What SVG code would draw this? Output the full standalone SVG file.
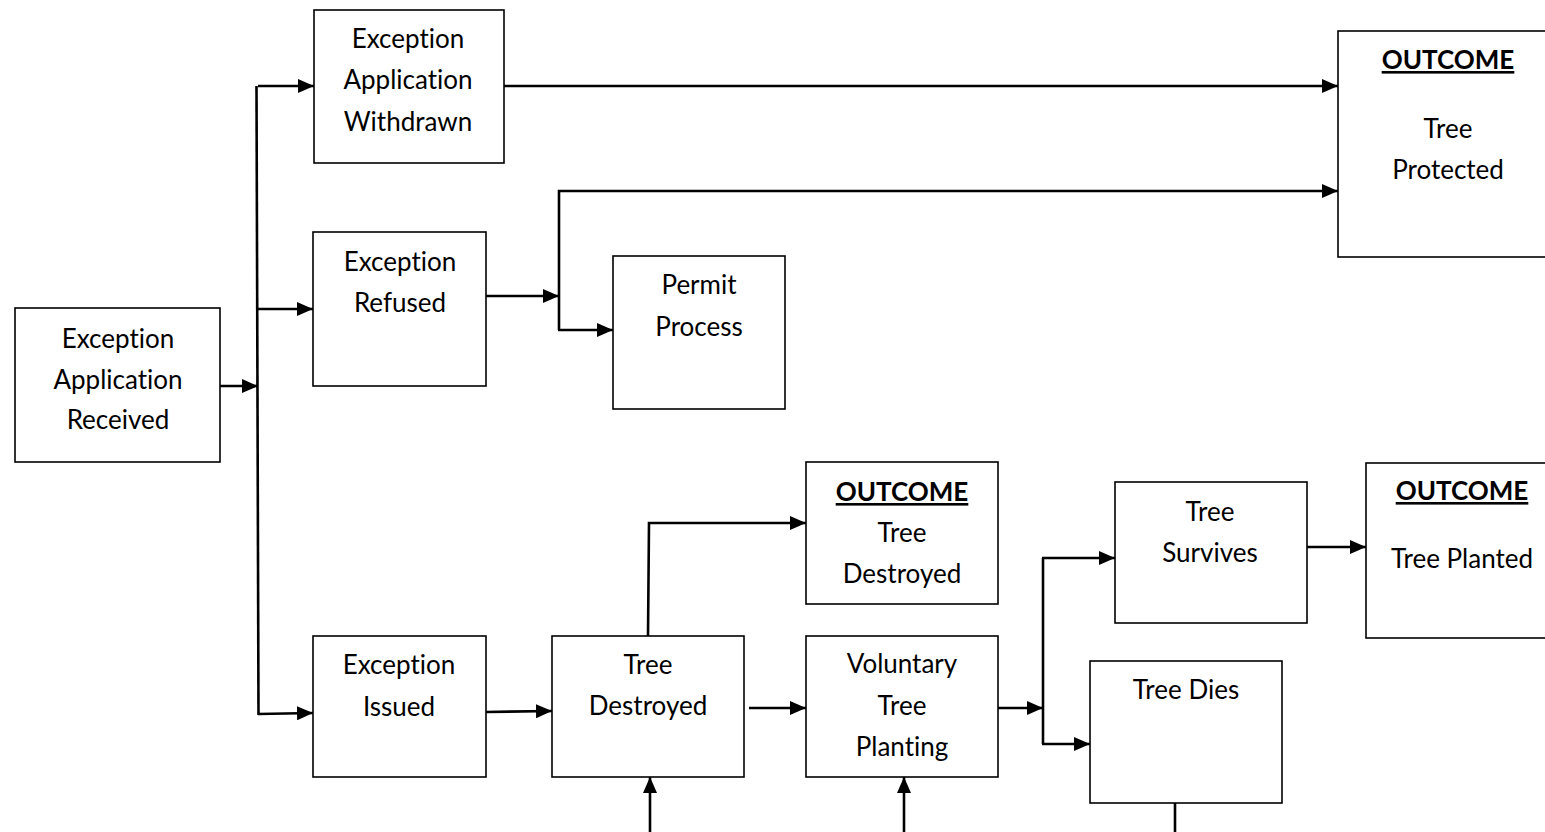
<svg xmlns="http://www.w3.org/2000/svg" width="1545" height="832" viewBox="0 0 1545 832">
  <style>
    .box { fill: #ffffff; stroke: #000000; stroke-width: 1.6; }
    .lbl { font-family: Lato, "Liberation Sans", sans-serif; font-size: 26px; fill: #000000; text-anchor: middle; font-variant-ligatures: none; }
    .hd { font-weight: bold; text-decoration: underline; }
    .wire { fill: none; stroke: #000000; stroke-width: 2.6; }
    .arr { marker-end: url(#head); }
  </style>
  <defs>
    <marker id="head" viewBox="0 0 16 14" refX="16" refY="7" markerWidth="16" markerHeight="14" markerUnits="userSpaceOnUse" orient="auto">
      <path d="M0,0 L16,7 L0,14 z" fill="#000000"/>
    </marker>
  </defs>
  <rect width="1545" height="832" fill="#ffffff"/>

  <!-- connectors -->
  <g id="connectors">
    <path class="wire arr" d="M220,386 L258,386"/>
    <path class="wire" d="M256.5,86 L258.5,715"/>
    <path class="wire arr" d="M258,86 L314,86"/>
    <path class="wire arr" d="M258,309 L313,309"/>
    <path class="wire arr" d="M258,714 L313,713"/>
    <path class="wire arr" d="M504,86 L1338,86"/>
    <path class="wire arr" d="M486,296 L559,296"/>
    <path class="wire arr" d="M559,330 L559,191 L1338,191"/>
    <path class="wire arr" d="M558,330 L613,330"/>
    <path class="wire arr" d="M486,712 L552,711"/>
    <path class="wire arr" d="M648,636 L649,523 L806,523"/>
    <path class="wire arr" d="M749,708 L806,708"/>
    <path class="wire arr" d="M650,832 L650,777"/>
    <path class="wire arr" d="M904,832 L904,777"/>
    <path class="wire arr" d="M998,708 L1043,708"/>
    <path class="wire" d="M1043,558 L1043,744"/>
    <path class="wire arr" d="M1042,558 L1115,558"/>
    <path class="wire arr" d="M1042,744 L1090,744"/>
    <path class="wire arr" d="M1307,547 L1366,547"/>
    <path class="wire" d="M1175,803 L1175,832"/>
  </g>

  <g id="received">
    <rect class="box" x="15" y="308" width="205" height="154"/>
    <text class="lbl" x="118" y="348">Exception</text>
    <text class="lbl" x="118" y="389">Application</text>
    <text class="lbl" x="118" y="429">Received</text>
  </g>
  <g id="withdrawn">
    <rect class="box" x="314" y="10" width="190" height="153"/>
    <text class="lbl" x="408" y="48">Exception</text>
    <text class="lbl" x="408" y="89">Application</text>
    <text class="lbl" x="408" y="131">Withdrawn</text>
  </g>
  <g id="refused">
    <rect class="box" x="313" y="232" width="173" height="154"/>
    <text class="lbl" x="400" y="271">Exception</text>
    <text class="lbl" x="400" y="312">Refused</text>
  </g>
  <g id="permit">
    <rect class="box" x="613" y="256" width="172" height="153"/>
    <text class="lbl" x="699" y="294">Permit</text>
    <text class="lbl" x="699" y="336">Process</text>
  </g>
  <g id="outcome-protected">
    <rect class="box" x="1338" y="31" width="220" height="226"/>
    <text class="lbl hd" x="1448" y="69">OUTCOME</text>
    <text class="lbl" x="1448" y="138">Tree</text>
    <text class="lbl" x="1448" y="179">Protected</text>
  </g>
  <g id="issued">
    <rect class="box" x="313" y="636" width="173" height="141"/>
    <text class="lbl" x="399" y="674">Exception</text>
    <text class="lbl" x="399" y="716">Issued</text>
  </g>
  <g id="tree-destroyed">
    <rect class="box" x="552" y="636" width="192" height="141"/>
    <text class="lbl" x="648" y="674">Tree</text>
    <text class="lbl" x="648" y="715">Destroyed</text>
  </g>
  <g id="outcome-destroyed">
    <rect class="box" x="806" y="462" width="192" height="142"/>
    <text class="lbl hd" x="902" y="501">OUTCOME</text>
    <text class="lbl" x="902" y="542">Tree</text>
    <text class="lbl" x="902" y="583">Destroyed</text>
  </g>
  <g id="voluntary">
    <rect class="box" x="806" y="636" width="192" height="141"/>
    <text class="lbl" x="902" y="673">Voluntary</text>
    <text class="lbl" x="902" y="715">Tree</text>
    <text class="lbl" x="902" y="756">Planting</text>
  </g>
  <g id="survives">
    <rect class="box" x="1115" y="482" width="192" height="141"/>
    <text class="lbl" x="1210" y="521">Tree</text>
    <text class="lbl" x="1210" y="562">Survives</text>
  </g>
  <g id="outcome-planted">
    <rect class="box" x="1366" y="463" width="200" height="175"/>
    <text class="lbl hd" x="1462" y="500">OUTCOME</text>
    <text class="lbl" x="1462" y="568">Tree Planted</text>
  </g>
  <g id="dies">
    <rect class="box" x="1090" y="661" width="192" height="142"/>
    <text class="lbl" x="1186" y="699">Tree Dies</text>
  </g>
</svg>
